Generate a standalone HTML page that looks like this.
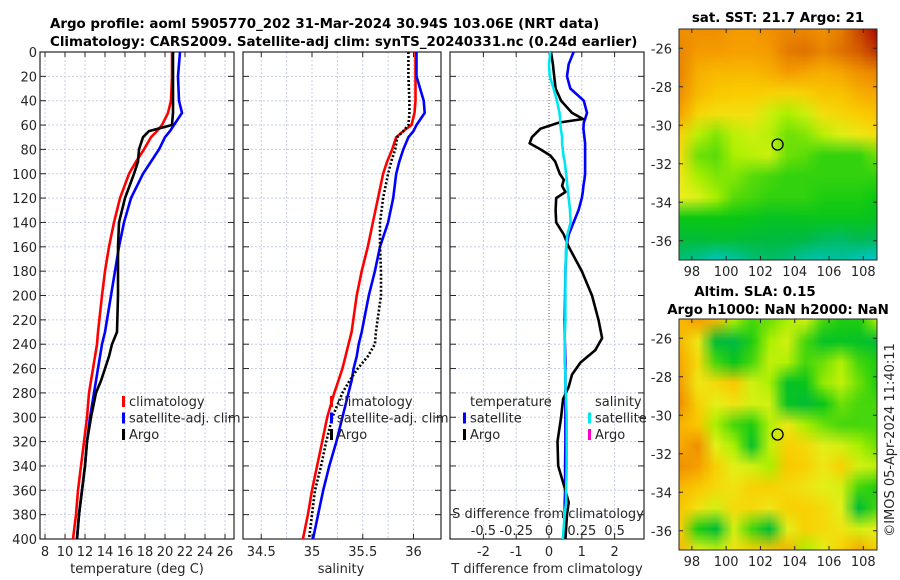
<!DOCTYPE html>
<html><head><meta charset="utf-8">
<style>
body{margin:0;background:#fff;width:900px;height:580px;overflow:hidden;font-family:"DejaVu Sans","Liberation Sans",sans-serif}
#wrap{position:relative;width:900px;height:580px}
svg{position:absolute;left:0;top:0}
canvas{position:absolute}
</style></head>
<body>
<div id="wrap">
<canvas id="sstmap" width="198" height="231" style="left:679px;top:29px;width:198px;height:231px"></canvas>
<canvas id="slamap" width="198" height="231" style="left:679px;top:319px;width:198px;height:231px"></canvas>
<svg id="fig" width="900" height="580" xmlns="http://www.w3.org/2000/svg"></svg>
</div>
<script>
// ---- data ----
const depths=[0,20,40,50,60,65,70,80,90,100,120,140,160,180,200,230,240,250,260,270,280,300,320,340,360,380,400];
const tempClim=[20.7,20.7,20.6,20.3,19.7,19.2,18.6,17.9,17.1,16.4,15.5,14.9,14.4,14.0,13.7,13.3,13.2,13.0,12.8,12.6,12.4,12.2,11.9,11.6,11.3,11.1,10.8];
const tempSat=[21.5,21.3,21.4,21.7,20.9,20.5,20.0,19.4,18.6,17.8,16.6,15.9,15.4,15.0,14.6,14.0,13.7,13.5,13.3,13.1,12.9,12.5,12.2,12.0,11.7,11.4,11.2];
const tempArgo=[20.8,20.8,20.8,20.8,20.7,18.4,17.8,17.4,17.3,16.9,16.0,15.4,15.3,15.3,15.3,15.2,14.7,14.4,14.0,13.6,13.1,12.6,12.2,12.0,11.7,11.4,11.2];
const salClim=[36.02,36.02,36.02,36.01,35.98,35.9,35.83,35.79,35.74,35.70,35.65,35.60,35.55,35.49,35.44,35.39,35.36,35.33,35.30,35.26,35.22,35.15,35.10,35.05,35.0,34.96,34.91];
const salSat=[36.03,36.03,36.10,36.11,36.03,36.0,35.95,35.9,35.86,35.83,35.8,35.75,35.67,35.62,35.56,35.49,35.46,35.44,35.41,35.39,35.36,35.30,35.24,35.17,35.11,35.06,35.01];
const salArgo=[35.95,35.95,35.96,35.96,35.95,35.9,35.84,35.82,35.78,35.75,35.7,35.67,35.67,35.68,35.68,35.63,35.62,35.55,35.45,35.37,35.30,35.20,35.14,35.09,35.03,35.0,34.97];
const diffDepths=[0,10,20,30,40,50,55,58,63,70,75,80,85,90,100,105,110,115,120,130,140,150,160,180,200,220,235,245,255,265,275,285,300,320,340,360,370,380,400];
const dTsat=[0.75,0.6,0.55,0.65,1.06,1.16,1.1,1.06,1.05,1.08,1.1,1.1,1.1,1.1,1.1,1.08,1.05,1.03,1.0,0.9,0.75,0.6,0.53,0.5,0.49,0.48,0.48,0.49,0.5,0.5,0.5,0.5,0.5,0.5,0.49,0.49,0.48,0.48,0.47];
const dSsat=[0.01,0,0.005,0.035,0.06,0.08,0.085,0.085,0.09,0.1,0.1,0.105,0.11,0.12,0.13,0.135,0.14,0.145,0.15,0.16,0.165,0.14,0.13,0.125,0.125,0.125,0.12,0.12,0.12,0.125,0.125,0.13,0.135,0.135,0.135,0.13,0.13,0.12,0.105];
const dTargo=[0.06,0.12,0.16,0.2,0.37,0.7,1.04,0.3,-0.26,-0.52,-0.59,-0.26,0.04,0.19,0.33,0.45,0.4,0.5,0.22,0.2,0.22,0.45,0.6,1.0,1.31,1.51,1.62,1.41,0.96,0.7,0.6,0.43,0.37,0.26,0.28,0.5,0.6,0.55,0.5];
const depthTicks=[0,20,40,60,80,100,120,140,160,180,200,220,240,260,280,300,320,340,360,380,400];
const tempTicks=[8,10,12,14,16,18,20,22,24,26];
const salTicks=[34.5,35,35.5,36];
const dTTicks=[-2,-1,0,1,2];
const dSTicks=[-0.5,-0.25,0,0.25,0.5];
const latTicks=[-26,-28,-30,-32,-34,-36];
const lonTicks=[98,100,102,104,106,108];
const sstGrid=[
[.85,.85,.85,.84,.84,.85,.86,.86,.85,.87,.92,.98],
[.86,.84,.84,.83,.83,.84,.87,.88,.86,.88,.9,.94],
[.86,.8,.78,.78,.78,.8,.84,.82,.8,.82,.85,.86],
[.85,.78,.75,.74,.74,.73,.72,.73,.76,.76,.8,.82],
[.82,.72,.7,.7,.7,.62,.58,.62,.7,.72,.74,.76],
[.72,.6,.56,.6,.62,.6,.55,.56,.6,.64,.68,.7],
[.7,.55,.54,.58,.6,.62,.55,.54,.52,.52,.52,.55],
[.68,.58,.56,.56,.54,.53,.52,.52,.52,.52,.52,.52],
[.66,.64,.58,.54,.53,.52,.52,.52,.51,.51,.51,.5],
[.5,.5,.5,.5,.49,.48,.48,.49,.49,.49,.49,.48],
[.45,.45,.46,.46,.45,.44,.44,.43,.41,.4,.42,.41],
[.38,.36,.32,.34,.38,.4,.38,.34,.33,.35,.32,.3]];
const slaGrid=[
[.75,.8,.75,.55,.5,.52,.55,.6,.5,.48,.48,.55],
[.75,.65,.42,.4,.48,.55,.6,.5,.44,.45,.44,.42],
[.78,.68,.5,.46,.5,.58,.56,.5,.52,.56,.5,.48],
[.8,.65,.68,.72,.6,.55,.44,.46,.54,.58,.52,.48],
[.82,.7,.62,.66,.6,.6,.45,.42,.46,.52,.5,.5],
[.76,.72,.55,.5,.48,.56,.65,.55,.52,.5,.5,.5],
[.78,.82,.62,.55,.44,.58,.7,.68,.62,.6,.55,.52],
[.82,.8,.7,.62,.6,.55,.72,.7,.65,.7,.6,.58],
[.75,.72,.68,.66,.7,.7,.68,.66,.62,.6,.5,.48],
[.72,.66,.6,.68,.68,.65,.7,.7,.68,.62,.42,.5],
[.7,.48,.42,.6,.5,.42,.62,.7,.68,.66,.6,.62],
[.75,.62,.58,.66,.7,.72,.76,.55,.62,.7,.78,.7]];
const argoLon=103, argoLat=-31;

// ---- geometry ----
const TOP=52,BOT=539;
const yD=d=>TOP+(d/400)*(BOT-TOP);
const P1={l:40,r:234}, P2={l:243,r:441}, P3={l:450,r:644};
const xT=t=>45+(t-8)*10;
const xS=s=>312+(s-35)*101.5;
const xDT=v=>549+v*32.8;
const xDS=v=>549+v*131.2;
const MAP={l:679,r:877,lon0:97.25,lon1:108.8};
const lonX=lo=>MAP.l+(lo-MAP.lon0)/(MAP.lon1-MAP.lon0)*(MAP.r-MAP.l);
const M1={t:29,b:260}, M2={t:319,b:550};
const latY=(m,la)=>m.t+(-25-la)/12*(m.b-m.t);

const NS="http://www.w3.org/2000/svg";
const svg=document.getElementById('fig');
function mk(tag,attrs,parent){const e=document.createElementNS(NS,tag);for(const k in attrs)e.setAttribute(k,attrs[k]);(parent||svg).appendChild(e);return e;}
function txt(s,x,y,o,parent){const e=mk('text',Object.assign({x:x,y:y,'font-size':13,fill:'#262626','font-family':'"DejaVu Sans","Liberation Sans",sans-serif'},o||{}),parent);e.textContent=s;return e;}

function panel(P,name,xTicks,xf,gridVals){
  const g=mk('g',{});
  
  
  depthTicks.forEach(d=>{const l=mk('line',{x1:P.l,x2:P.r,y1:yD(d),y2:yD(d),stroke:'#c8cde8','stroke-width':1,'stroke-dasharray':'2,2'},g);});
  gridVals.forEach(v=>{const x=xf(v);const l=mk('line',{x1:x,x2:x,y1:TOP,y2:BOT,stroke:'#c8cde8','stroke-width':1,'stroke-dasharray':'2,2'},g);});
  depthTicks.forEach(d=>{mk('line',{x1:P.l,x2:P.l+6,y1:yD(d),y2:yD(d),stroke:'#262626'},g);mk('line',{x1:P.r-6,x2:P.r,y1:yD(d),y2:yD(d),stroke:'#262626'},g);});
  xTicks.forEach(v=>{const x=xf(v);mk('line',{x1:x,x2:x,y1:BOT-5,y2:BOT,stroke:'#262626'},g);mk('line',{x1:x,x2:x,y1:TOP,y2:TOP+5,stroke:'#262626'},g);});
  const b=mk('rect',{x:P.l,y:TOP,width:P.r-P.l,height:BOT-TOP,fill:'none',stroke:'#262626','stroke-width':1.2},g);
  
  return g;
}
panel(P1,'temperature-panel',tempTicks,xT,tempTicks);
panel(P2,'salinity-panel',salTicks,xS,[34.5,34.75,35,35.25,35.5,35.75,36]);
panel(P3,'difference-panel',dTTicks,xDT,[-2,-1,1,2]);
const zl=mk('line',{x1:xDT(0),x2:xDT(0),y1:TOP,y2:BOT,stroke:'#555','stroke-width':1,'stroke-dasharray':'1,2'});


depthTicks.forEach(d=>{const t=txt(String(d),37,yD(d)+5,{'text-anchor':'end'});});
tempTicks.forEach(v=>{const t=txt(String(v),xT(v),556,{'text-anchor':'middle'});});
salTicks.forEach(v=>{const t=txt(String(v),xS(v),556,{'text-anchor':'middle'});});
dTTicks.forEach(v=>{const t=txt(String(v),xDT(v),556,{'text-anchor':'middle'});});
dSTicks.forEach(v=>{const t=txt(String(v),xDS(v),535,{'text-anchor':'middle'});});
let t;
t=txt('temperature (deg C)',137,573,{'text-anchor':'middle'});
t=txt('salinity',341,573,{'text-anchor':'middle'});
t=txt('T difference from climatology',547,573,{'text-anchor':'middle'});
t=txt('S difference from climatology',548,518,{'text-anchor':'middle'});

t=txt('Argo profile: aoml 5905770_202 31-Mar-2024 30.94S 103.06E (NRT data)',50,28,{'font-weight':'bold','fill':'#000','font-size':13.4});
t=txt('Climatology: CARS2009. Satellite-adj clim: synTS_20240331.nc (0.24d earlier)',50,46,{'font-weight':'bold','fill':'#000','font-size':13.4});
t=txt('sat. SST: 21.7 Argo: 21',778,22,{'font-weight':'bold','fill':'#000','text-anchor':'middle','font-size':13.4});
t=txt('Altim. SLA: 0.15',755,296,{'font-weight':'bold','fill':'#000','text-anchor':'middle','font-size':13.4});
t=txt('Argo h1000: NaN h2000: NaN',778,314,{'font-weight':'bold','fill':'#000','text-anchor':'middle','font-size':13.4});
t=txt('©IMOS 05-Apr-2024 11:40:11',0,0,{'text-anchor':'middle',transform:'translate(894,440) rotate(-90)'});

function series(xs,ys,xf,color,name,dash,w){
  const d=xs.map((v,i)=>(i?'L':'M')+xf(v).toFixed(1)+','+yD(ys[i]).toFixed(1)).join(' ');
  const p=mk('path',{d:d,fill:'none',stroke:color,'stroke-width':w||2.6,'stroke-linejoin':'round'});
  if(dash)p.setAttribute('stroke-dasharray',dash);
  
  
}
series(tempClim,depths,xT,'#ff0000','temp-climatology-line');
series(tempSat,depths,xT,'#0000ff','temp-satellite-line');
series(tempArgo,depths,xT,'#000000','temp-argo-line');
series(salClim,depths,xS,'#ff0000','sal-climatology-line');
series(salSat,depths,xS,'#0000ff','sal-satellite-line');
series(salArgo,depths,xS,'#000000','sal-argo-line','2,2');
series(dTsat,diffDepths,xDT,'#0000ff','tdiff-satellite-line');
series(dTargo,diffDepths,xDT,'#000000','tdiff-argo-line');
series(dSsat,diffDepths,xDS,'#00e5ee','sdiff-satellite-line');

function legend(x,y,items,name){
  const g=mk('g',{});
  items.forEach((it,i)=>{
    const yy=y+i*16.5;
    if(it.c){mk('rect',{x:x,y:yy-10,width:3,height:11,fill:it.c},g);}
    txt(it.s,x+7,yy,{},g);
  });
}
legend(122,406,[{c:'#ff0000',s:'climatology'},{c:'#0000ff',s:'satellite-adj. clim'},{c:'#000',s:'Argo'}],'temp-legend');
legend(330,406,[{c:'#ff0000',s:'climatology'},{c:'#0000ff',s:'satellite-adj. clim'},{c:'#000',s:'Argo'}],'sal-legend');
legend(463,406,[{c:null,s:'temperature'},{c:'#0000ff',s:'satellite'},{c:'#000',s:'Argo'}],'tdiff-legend');
legend(588,406,[{c:null,s:'salinity'},{c:'#00e5ee',s:'satellite'},{c:'#ff00cc',s:'Argo'}],'sdiff-legend');

const stops=[[0,[0,60,255]],[0.3,[0,200,230]],[0.45,[0,185,70]],[0.52,[10,200,20]],[0.6,[170,240,0]],[0.68,[235,240,30]],[0.76,[250,205,0]],[0.86,[245,155,0]],[1,[170,10,0]]];
function cmap(v){v=Math.max(0,Math.min(1,v));for(let i=1;i<stops.length;i++){if(v<=stops[i][0]){const a=stops[i-1],b=stops[i];const f=(v-a[0])/(b[0]-a[0]);return a[1].map((c,k)=>Math.round(c+(b[1][k]-c)*f));}}return stops[stops.length-1][1];}
function drawMap(id,grid,shift){
  const c=document.getElementById(id),ctx=c.getContext('2d');
  const n=grid.length,m=grid[0].length;
  const s=document.createElement('canvas');s.width=m;s.height=n;
  const sc=s.getContext('2d');const img=sc.createImageData(m,n);
  grid.forEach((row,r)=>row.forEach((v,k)=>{const col=cmap(v+shift);const o=(r*m+k)*4;img.data[o]=col[0];img.data[o+1]=col[1];img.data[o+2]=col[2];img.data[o+3]=255;}));
  sc.putImageData(img,0,0);
  ctx.imageSmoothingEnabled=true;
  ctx.drawImage(s,0,0,m,n,-c.width/(2*m),-c.height/(2*n),c.width*(1+1/m),c.height*(1+1/n));
}
drawMap('sstmap',sstGrid,0.02);
drawMap('slamap',slaGrid,0.05);
function mapAxes(M,name){
  const g=mk('g',{});
  mk('rect',{x:MAP.l,y:M.t,width:MAP.r-MAP.l,height:M.b-M.t,fill:'none',stroke:'#262626','stroke-width':1},g);
  latTicks.forEach(la=>{const y=latY(M,la);mk('line',{x1:MAP.l,x2:MAP.l+4,y1:y,y2:y,stroke:'#262626'},g);mk('line',{x1:MAP.r-4,x2:MAP.r,y1:y,y2:y,stroke:'#262626'},g);
    txt(String(la),672,y+5,{'text-anchor':'end'},g);});
  lonTicks.forEach(lo=>{const x=lonX(lo);mk('line',{x1:x,x2:x,y1:M.b-4,y2:M.b,stroke:'#262626'},g);mk('line',{x1:x,x2:x,y1:M.t,y2:M.t+4,stroke:'#262626'},g);
    txt(String(lo),x,M.b+16,{'text-anchor':'middle'},g);});
  const c=mk('ellipse',{cx:lonX(argoLon),cy:latY(M,argoLat),rx:5.5,ry:5.5,fill:'none',stroke:'#000','stroke-width':1.3},g);
  
}
mapAxes(M1,'sst-map-axes');
mapAxes(M2,'sla-map-axes');
</script>
</body></html>
